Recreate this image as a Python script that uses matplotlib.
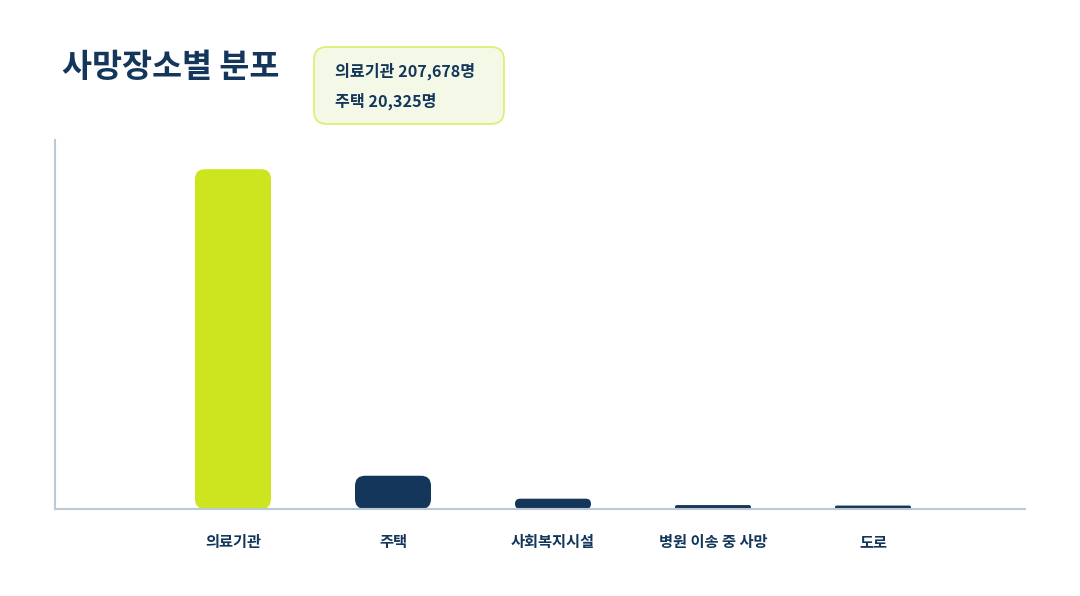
import matplotlib
matplotlib.use('Agg')
import matplotlib.pyplot as plt
from matplotlib.patches import FancyBboxPatch

plt.rcParams['font.family'] = ['Noto Sans CJK KR', 'DejaVu Sans']

# data
categories = ['의료기관', '주택', '사회복지시설', '병원 이송 중 사망', '도로']
deaths = [207678, 20325, 6300, 2400, 2100]
highlight = '의료기관'
summary_lines = ['의료기관 207,678명', '주택 20,325명']

NAVY = '#13365A'
GREEN = '#CDE51F'
AXIS_GRAY = '#BCC8D3'

W, H = 1080, 596
fig = plt.figure(figsize=(W / 100, H / 100), dpi=100)

# axes box in pixels: left 55, right 1025, top 140, bottom 509
ax = fig.add_axes([55 / W, (H - 509) / H, 970 / W, 369 / H])

x_lo, x_hi = -1.1125, 4.95
y_hi = 225500
ax.set_xlim(x_lo, x_hi)
ax.set_ylim(0, y_hi)

# pixel sizes -> data units, so the rounded corners stay round
px_x = (x_hi - x_lo) / 970
px_y = y_hi / 369
aspect = px_y / px_x

bar_w = 76 * px_x
radius = 10 * px_x

for i, (cat, val) in enumerate(zip(categories, deaths)):
    color = GREEN if cat == highlight else NAVY
    r = min(radius, (val / aspect) / 2, bar_w / 2)
    patch = FancyBboxPatch((i - bar_w / 2, 0), bar_w, val,
                           boxstyle='round,pad=0,rounding_size=%f' % r,
                           mutation_aspect=aspect,
                           facecolor=color, edgecolor='none', zorder=2)
    ax.add_patch(patch)

for side in ['top', 'right']:
    ax.spines[side].set_visible(False)
for side in ['left', 'bottom']:
    ax.spines[side].set_color(AXIS_GRAY)
    ax.spines[side].set_linewidth(1.5)

ax.set_yticks([])
ax.set_xticks(range(len(categories)))
ax.set_xticklabels(categories, fontsize=11, fontweight='bold', color=NAVY)
ax.tick_params(axis='x', length=0, pad=18)

# title
fig.text(62 / W, 1 - 68 / H, '사망장소별 분포', fontsize=23.5, fontweight='bold',
         color=NAVY, va='center', ha='left')

# summary box
box = FancyBboxPatch((314 / W, 1 - 124 / H), 190 / W, 77 / H,
                     boxstyle='round,pad=0,rounding_size=0.012',
                     mutation_aspect=W / H,
                     transform=fig.transFigure, facecolor='#F4F8E7',
                     edgecolor='#DCEE6A', linewidth=1.2)
fig.patches.append(box)
for k, line in enumerate(summary_lines):
    fig.text(335 / W, 1 - (71 + 30 * k) / H, line, fontsize=11.6, fontweight='bold',
             color=NAVY, va='center', ha='left')

fig.savefig('out.png', dpi=100)
